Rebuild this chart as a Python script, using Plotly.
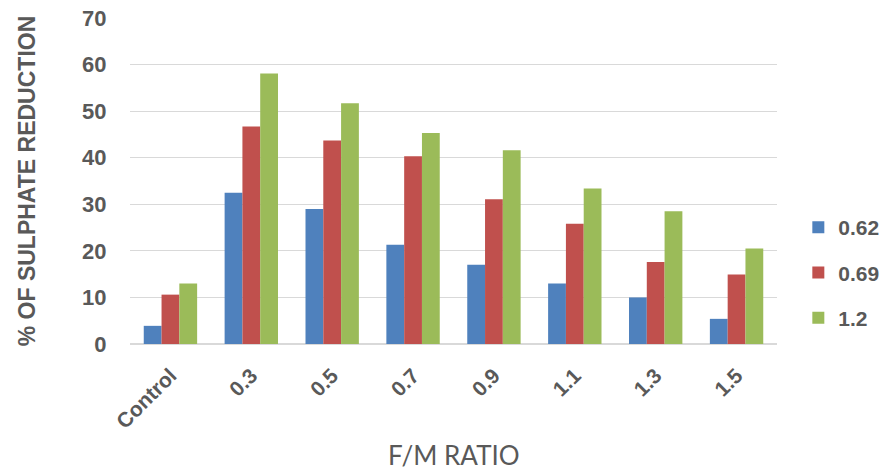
import plotly.graph_objects as go

# F/M ratio categories and sulphate reduction (%) for each COD/SO4 series
categories = ["Control", "0.3", "0.5", "0.7", "0.9", "1.1", "1.3", "1.5"]
series_names = ["0.62", "0.69", "1.2"]
values_062 = [3.9, 32.5, 29.0, 21.3, 17.0, 13.0, 10.0, 5.4]
values_069 = [10.6, 46.7, 43.7, 40.3, 31.1, 25.8, 17.6, 14.9]
values_12 = [13.0, 58.1, 51.7, 45.3, 41.6, 33.4, 28.5, 20.5]
y_ticks = [0, 10, 20, 30, 40, 50, 60, 70]

colors = ["#4F81BD", "#C0504D", "#9BBB59"]
text_gray = "#595959"

fig = go.Figure()
for name, vals, col in zip(series_names, [values_062, values_069, values_12], colors):
    fig.add_trace(go.Bar(
        x=categories, y=vals, name=name, legendgroup=name,
        marker=dict(color=col, line=dict(width=0)),
    ))

fig.update_layout(
    width=890, height=474,
    margin=dict(l=130, r=113, t=18, b=130, autoexpand=False),
    paper_bgcolor="white", plot_bgcolor="white",
    barmode="group", bargap=0.34, bargroupgap=0,
    font=dict(family="Liberation Sans, Arial, sans-serif", color=text_gray),
    legend=dict(
        xref="container", yref="container",
        x=0.897, xanchor="left", y=0.425, yanchor="middle",
        font=dict(size=21, color=text_gray, family="Liberation Sans, Arial, sans-serif", weight="bold"),
        tracegroupgap=15, itemwidth=30,
    ),
    showlegend=True,
)

fig.update_xaxes(
    type="category", tickangle=-45,
    tickfont=dict(size=21, color=text_gray, weight="bold"),
    showgrid=False, showline=False,
    ticks="outside", ticklen=10, tickcolor="rgba(0,0,0,0)",
)
fig.update_yaxes(
    range=[0, 70], tickvals=y_ticks, ticktext=[str(v) for v in y_ticks],
    showgrid=True, gridcolor="#D9D9D9", gridwidth=1.2,
    zeroline=True, zerolinecolor="#D9D9D9", zerolinewidth=1.5,
    showline=False, ticks="outside", ticklen=18, tickcolor="rgba(0,0,0,0)",
    tickfont=dict(size=22, color=text_gray, weight="bold"),
    title=dict(text="% OF SULPHATE REDUCTION",
               font=dict(size=23, color=text_gray, weight="bold"), standoff=40),
)

fig.add_annotation(
    text="F/M RATIO", xref="paper", yref="paper", x=0.5, y=0,
    yshift=-129, yanchor="bottom", showarrow=False,
    font=dict(size=26, color=text_gray, family="Lato, Open Sans, sans-serif"),
)

fig.write_html("out.html")
